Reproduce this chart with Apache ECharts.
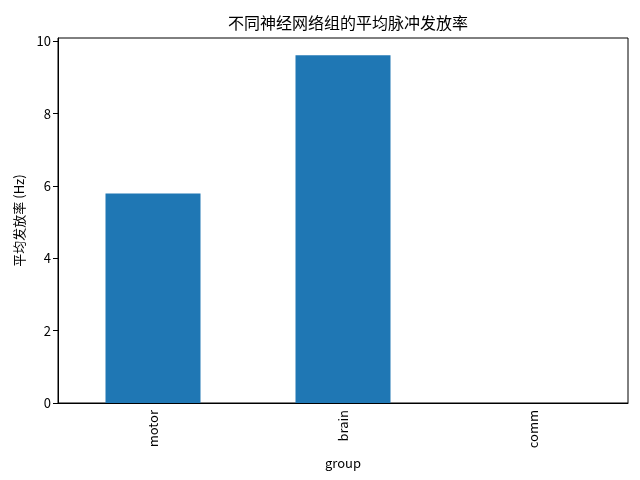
<!DOCTYPE html>
<html style="height: 100%">
  <head>
    <meta charset="utf-8">
  </head>
  <body style="height: 100%; margin: 0; background: #fff">
    <div id="container" style="width: 640px; height: 480px"></div>
    <script src="https://cdn.jsdelivr.net/npm/echarts@6/dist/echarts.min.js"></script>
    <script type="text/javascript">
var groups = ['motor', 'brain', 'comm'];
var rates = [5.79, 9.61, 0];
var yTicks = [0, 2, 4, 6, 8, 10];

var font = '"Noto Sans CJK SC", sans-serif';
var myChart = echarts.init(document.getElementById('container'));

var option = {
    backgroundColor: '#fff',
    animation: false,
    title: {
        text: '不同神经网络组的平均脉冲发放率',
        left: 343,
        textAlign: 'center',
        top: 10,
        textStyle: { fontFamily: font, fontSize: 16, fontWeight: 'normal', color: '#000' }
    },
    grid: {
        left: 58, right: 12, top: 38, bottom: 77,
        show: true, borderColor: '#000', borderWidth: 1
    },
    xAxis: {
        type: 'category',
        data: groups,
        name: 'group',
        nameLocation: 'middle',
        nameGap: 50,
        nameTextStyle: { fontFamily: font, fontSize: 13, color: '#000' },
        axisLine: { lineStyle: { color: '#000' } },
        axisTick: { alignWithLabel: true, length: 5, lineStyle: { color: '#000' } },
        axisLabel: { rotate: 90, fontFamily: font, fontSize: 13, color: '#000', margin: 7 },
        splitLine: { show: false }
    },
    yAxis: {
        type: 'value',
        min: 0,
        max: 10.09,
        name: '平均发放率 (Hz)',
        nameLocation: 'middle',
        nameRotate: 90,
        nameGap: 30,
        nameTextStyle: { fontFamily: font, fontSize: 13, color: '#000' },
        axisLine: { show: true, lineStyle: { color: '#000' } },
        axisTick: { show: true, length: 5, customValues: yTicks, lineStyle: { color: '#000' } },
        axisLabel: { fontFamily: font, fontSize: 13, color: '#000', margin: 7, customValues: yTicks },
        splitLine: { show: false }
    },
    series: [{
        type: 'bar',
        data: rates,
        barWidth: '50%',
        itemStyle: { color: '#1f77b4' }
    }]
};

myChart.setOption(option, true);
    </script>
  </body>
</html>
